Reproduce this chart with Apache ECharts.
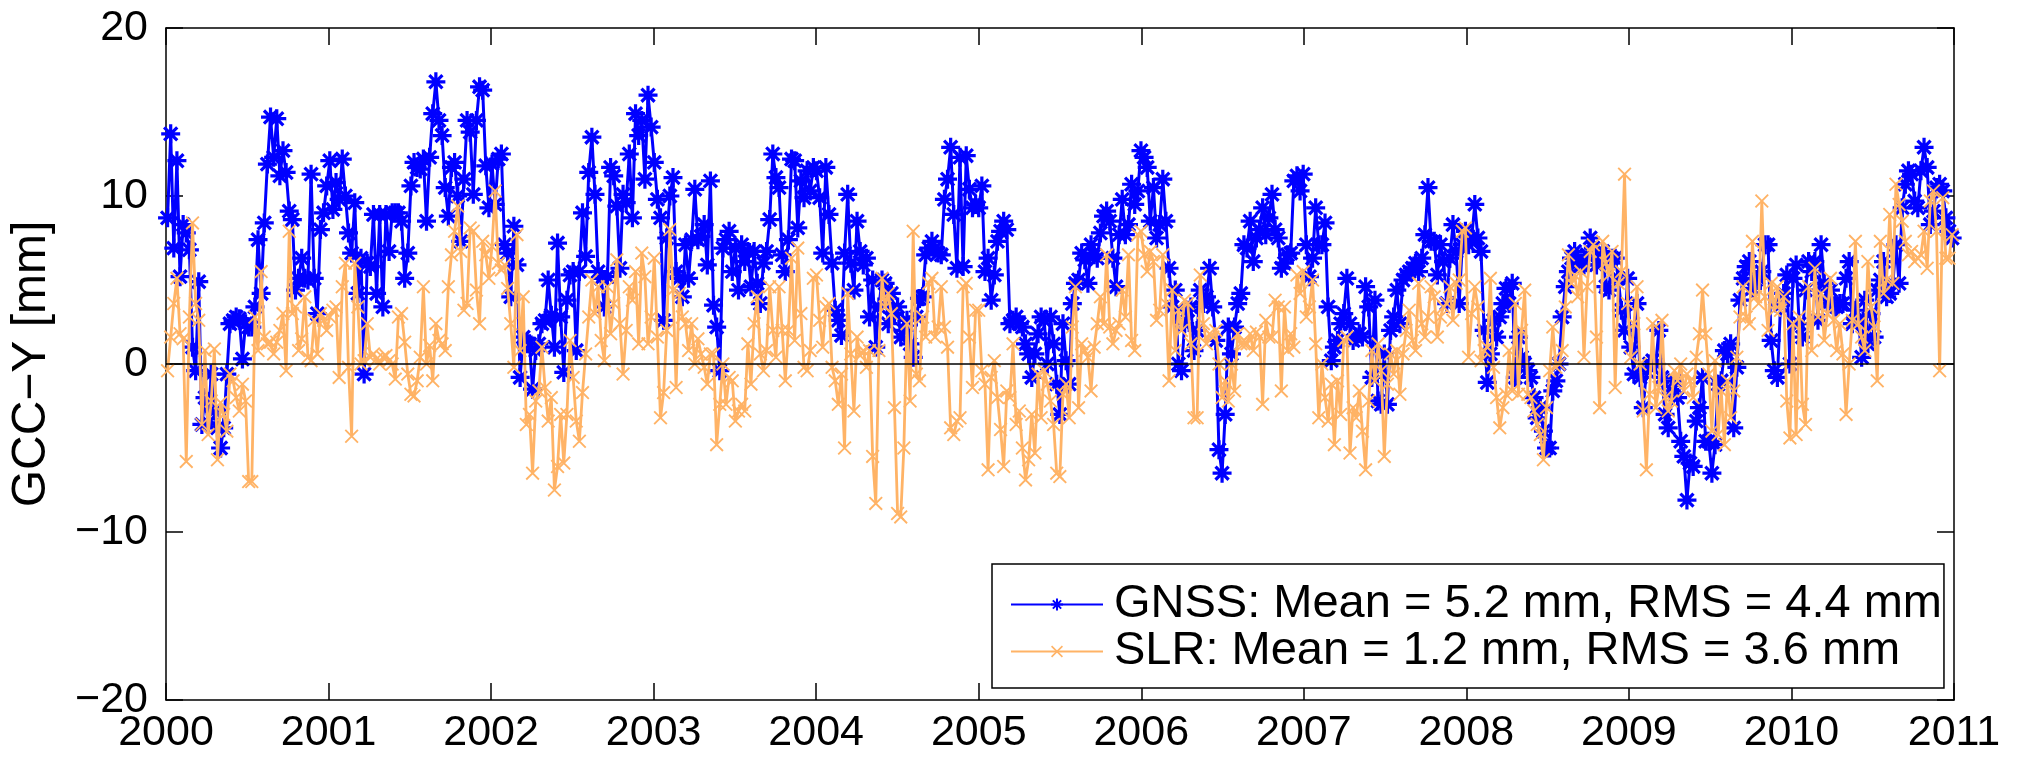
<!DOCTYPE html>
<html>
<head>
<meta charset="utf-8">
<title>GCC-Y: GNSS vs SLR</title>
<script src="https://cdn.jsdelivr.net/npm/echarts@6/dist/echarts.min.js"></script>
<style>
  html, body { margin: 0; padding: 0; background: #fff; }
  #chart { width: 2017px; height: 758px; }
</style>
</head>
<body>
<div id="chart"></div>
<script>
// Weekly geocenter Y-component estimates [mm], 2000.0 - 2011.0
const startYear = 2000;
const samplesPerYear = 52.1;

const xTicks = [2000, 2001, 2002, 2003, 2004, 2005, 2006, 2007, 2008, 2009, 2010, 2011];
const yTicks = [-20, -10, 0, 10, 20];

const seriesNames = [
  'GNSS: Mean = 5.2 mm, RMS = 4.4 mm',
  'SLR: Mean = 1.2 mm, RMS = 3.6 mm'
];

const gnss = [
  // 2000
  8.7, 13.7, 6.9, 12.1, 5.2, 8.3, 7.8, 6.8, 1.0, -0.4, 4.9, -3.6, -2.0, -3.5, -0.6, -2.8, -3.8, -5.0, -3.8, -0.6,
  2.4, 2.6, 2.8, 2.7, 0.3, 2.4, 2.2, 2.2, 3.4, 7.4, 4.2, 8.4, 11.9, 14.7, 12.3, 14.6, 11.2, 12.7, 11.4, 9.1,
  8.6, 4.4, 5.1, 6.3, 5.1, 5.0, 11.3, 5.1, 3.0, 8.0, 9.0, 10.6,
  // 2001
  12.1, 9.2, 10.8, 9.8, 12.2, 10.0, 7.8, 6.6, 9.6, 4.2, 6.3, -0.6, 6.0, 5.8, 8.9, 4.2, 8.9, 3.4, 8.9, 6.7,
  9.0, 9.0, 9.0, 8.5, 5.1, 6.6, 10.6, 12.0, 11.7, 11.6, 12.2, 8.5, 12.3, 14.9, 16.8, 14.5, 13.6, 10.5, 8.8, 11.7,
  12.0, 10.0, 7.3, 11.0, 14.5, 13.8, 10.1, 14.5, 16.5, 16.3, 11.8, 9.3,
  // 2002
  11.9, 9.5, 12.2, 12.5, 7.1, 6.6, 4.0, 8.2, 5.9, -0.8, 1.6, 1.2, 1.2, -1.5, 0.8, 1.2, 2.4, 2.6, 5.0, 2.9,
  1.0, 7.2, 2.8, -0.5, 3.8, 5.3, 5.5, 0.8, 5.5, 9.0, 6.4, 11.4, 13.5, 10.1, 5.5, 5.1, 3.4, 5.2, 11.7, 11.2,
  9.4, 5.7, 10.1, 9.6, 12.5, 8.7, 14.9, 13.6, 14.5, 11.0, 16.0, 14.1,
  // 2003
  12.0, 9.8, 8.7, 2.6, 7.5, 10.0, 11.1, 5.5, 5.1, 4.0, 7.1, 5.1, 7.4, 10.4, 7.4, 7.6, 8.3, 5.9, 10.9, 3.5,
  2.2, -0.4, 6.9, 7.4, 7.9, 5.5, 6.9, 4.4, 7.1, 6.1, 6.7, 4.6, 6.7, 4.8, 3.6, 6.0, 6.7, 8.6, 12.5, 11.1,
  10.5, 6.5, 5.5, 7.4, 12.2, 12.1, 8.1, 10.9, 9.9, 11.5, 10.3, 11.7,
  // 2004
  11.5, 9.9, 6.6, 11.7, 8.9, 6.0, 3.2, 2.6, 1.7, 6.6, 10.1, 6.0, 4.4, 8.5, 6.7, 5.9, 6.3, 2.8, 5.0, 1.0,
  3.4, 5.0, 4.8, 2.4, 4.2, 3.0, 3.4, 1.6, 2.0, 2.6, 1.2, 0.4, 2.8, 3.9, 4.0, 6.5, 6.9, 7.3, 6.9, 6.6,
  6.5, 9.8, 11.0, 12.9, 8.9, 5.7, 12.3, 5.8, 12.4, 10.4, 9.3, 9.5,
  // 2005
  9.3, 10.6, 5.5, 6.3, 3.8, 5.3, 7.3, 7.9, 8.5, 8.0, 2.4, 2.6, 2.8, 2.4, 2.2, 1.2, 0.6, -0.8, 0.6, 1.8,
  2.8, 2.6, 0.0, 2.8, 1.2, -1.2, -3.0, 2.4, 0.2, -1.2, 3.6, 4.8, 5.0, 6.6, 6.2, 4.8, 7.1, 6.5, 6.3, 7.8,
  8.8, 9.1, 8.5, 6.3, 4.6, 7.7, 9.8, 7.7, 8.3, 10.7, 9.5, 10.3,
  // 2006
  12.7, 12.3, 11.7, 8.5, 10.5, 7.5, 8.3, 11.0, 8.5, 5.7, 3.4, 4.4, 0.0, -0.4, 2.4, 3.2, 3.4, 0.8, 2.0, 4.4,
  3.6, 4.0, 5.7, 3.4, 1.4, -5.1, -6.5, -3.0, 2.2, 0.6, 2.2, 3.6, 4.2, 7.1, 6.9, 8.5, 6.1, 7.5, 8.0, 9.3,
  7.7, 8.7, 10.1, 8.0, 7.5, 5.7, 6.0, 6.5, 6.6, 10.9, 11.2, 10.3,
  // 2007
  11.3, 7.1, 5.2, 6.3, 9.3, 7.1, 7.1, 8.4, 3.4, 0.2, 1.0, 1.4, 2.4, 3.0, 5.1, 2.4, 1.4, 1.6, 1.8, 1.6,
  4.6, 3.4, -0.8, 3.8, -2.2, -2.4, 0.6, -2.4, 2.0, 2.8, 4.4, 2.4, 5.0, 5.3, 5.5, 5.7, 6.0, 5.5, 6.3, 7.7,
  10.5, 7.3, 7.3, 5.3, 7.1, 6.1, 3.6, 6.3, 8.3, 6.7, 3.6, 7.1,
  // 2008
  7.9, 7.1, 7.5, 9.5, 7.5, 6.7, 2.0, -1.1, 0.6, 2.6, 1.6, 2.8, 3.6, 4.5, 3.6, 4.8, -0.8, 1.6, 0.4, 0.0,
  -0.4, -0.8, -2.0, -3.2, -2.6, -4.0, -5.0, -5.0, -1.6, -1.0, 0.0, 2.8, 4.6, 5.5, 6.3, 6.7, 6.0, 5.9, 5.9, 6.5,
  7.5, 6.9, 5.9, 6.3, 6.7, 4.6, 4.4, 6.3, 6.3, 5.1, 3.2, 2.0,
  // 2009
  5.1, 1.0, -0.6, 3.6, -0.8, -2.6, -0.4, 0.0, 0.2, 0.0, 2.0, -0.8, -3.0, -3.8, -1.6, -1.0, -2.0, -4.6, -5.5, -8.1,
  -5.9, -6.1, -3.4, -2.6, -0.8, -4.6, -4.6, -6.5, -4.8, -1.2, -1.0, 0.8, 0.6, 1.2, -3.8, -0.2, 3.8, 5.1, 5.8, 6.1,
  4.5, 5.0, 5.1, 5.5, 7.1, 7.1, 1.4, -0.4, -0.8, 3.5, 4.2, 5.3,
  // 2010
  0.0, 5.1, 5.9, 2.4, 1.6, 4.4, 6.1, 5.5, 6.1, 2.6, 7.1, 4.8, 3.6, 4.4, 3.4, 3.4, 3.6, 3.6, 5.1, 6.1,
  2.4, 3.2, 2.6, 0.4, 3.8, 1.2, 3.0, 1.6, 4.4, 5.0, 6.1, 4.0, 4.2, 4.8, 7.1, 4.8, 9.3, 10.7, 11.5, 11.3,
  9.7, 9.3, 11.5, 12.9, 11.7, 8.3, 9.1, 10.5, 10.7, 10.3, 8.7, 7.9, 7.5
];

const slr = [
  // 2000
  -0.4, 1.6, 3.6, 5.1, 1.8, 1.5, -5.8, 2.8, 8.4, 3.6, 2.6, -3.6, 0.8, -4.2, -2.2, 0.9, -5.7, -2.3, -3.0, -4.0,
  -0.6, -1.0, -2.0, -2.8, -1.2, -2.2, -7.0, -7.0, 2.8, 0.8, 5.5, 1.6, 1.2, 1.3, 0.6, 1.3, 2.0, 3.0, -0.4, 7.9,
  3.0, 3.4, 0.8, 1.5, 4.0, 0.4, 0.2, 2.6, 0.6, 3.0, 2.6, 2.0,
  // 2001
  2.8, 3.2, 3.4, -0.8, 4.6, 6.0, -0.2, -4.3, 6.0, 3.4, 0.0, 0.2, 2.4, 0.4, 0.6, 0.3, 0.0, 0.4, 0.5, 0.2,
  0.0, -0.9, 2.8, 3.0, 1.3, -0.6, -1.8, -1.9, -1.0, 0.4, 4.6, 0.0, 1.1, -1.0, 2.4, 1.4, 1.2, 0.8, 4.6, 6.5,
  7.9, 9.4, 6.7, 3.2, 3.6, 8.1, 7.9, 4.4, 2.4, 7.3, 6.5, 5.1,
  // 2002
  7.0, 10.3, 6.0, 5.6, 5.9, 4.5, 2.4, -0.2, 7.7, 0.8, 4.0, -3.6, -3.0, -6.5, -2.2, -1.6, 1.0, -1.4, -3.4, -2.0,
  -7.5, -6.1, -3.0, -5.9, -3.0, 1.4, -0.8, -3.4, -4.6, -1.7, 0.6, 2.8, 5.0, 3.0, 4.6, 1.4, 0.2, 4.6, 1.8, 3.6,
  6.2, 2.4, -0.6, 2.0, 4.6, 3.8, 5.5, 1.2, 6.6, 5.2, 1.2, 2.8,
  // 2003
  6.3, 1.6, -3.2, -1.7, 2.0, 8.0, 4.4, -1.4, 4.2, 2.8, 2.4, 0.8, 2.4, 0.0, 1.5, 0.6, -0.2, -1.2, 0.6, 0.6,
  -4.8, -2.4, 0.0, -2.4, -0.8, -1.0, -3.4, -2.8, -2.4, -2.8, 1.2, -1.2, 2.4, 4.0, 0.6, -0.4, 0.8, 4.6, 2.0, 0.4,
  4.6, 2.0, -1.0, 2.0, 6.3, 1.4, 6.9, 3.0, -0.2, -0.4, 0.8, 5.1,
  // 2004
  5.3, 2.6, 1.0, 3.4, 3.6, -0.2, -1.0, -2.4, -0.6, -5.0, 4.2, 0.6, -2.8, 1.6, 0.5, 0.8, -0.2, 0.8, -5.5, -8.3,
  0.8, 5.1, 3.4, 4.2, 3.0, -2.6, -8.9, -9.1, -5.0, 2.4, -2.2, 7.9, -0.6, -1.0, 2.8, 1.6, 4.8, 5.1, 1.6, 2.2,
  4.6, 2.2, 1.0, -3.8, -4.2, -3.4, -3.2, 4.6, 4.8, 1.6, -1.4, 3.2,
  // 2005
  3.2, -0.4, -1.2, -6.3, -0.8, 0.2, -2.0, -3.9, -6.1, -1.6, -2.0, 1.2, -3.6, -2.8, -5.0, -6.9, -5.7, -3.0, -5.3, -0.6,
  -3.2, -0.4, -1.2, -2.2, -3.6, -6.5, -6.7, -1.8, -1.2, -3.2, 2.2, 4.6, -2.6, 1.2, 0.8, 0.4, -1.6, 1.0, 2.4, 4.0,
  2.4, 6.5, 2.2, 1.2, 2.0, 2.4, 4.4, 2.8, 6.5, 1.4, 0.8, 7.7,
  // 2006
  7.9, 6.5, 5.5, 6.7, 6.1, 2.6, 3.2, 6.5, 3.6, -1.0, 4.4, 0.8, 3.2, 2.0, 3.8, 3.6, 1.2, -3.2, -3.2, 5.3,
  2.4, 1.2, 1.8, 1.6, 2.0, 0.0, -2.0, -1.0, -2.2, 0.0, -1.6, 1.8, 1.2, 1.2, 1.2, 1.8, 0.8, 1.9, 1.6, -2.4,
  2.6, 1.6, 1.6, 3.8, 3.4, -1.6, 3.4, 0.8, 1.8, 1.0, 5.3, 4.2,
  // 2007
  5.5, 2.8, 3.4, 5.0, 1.2, -3.2, 0.0, -2.0, -3.4, -1.2, -4.8, -1.0, -3.0, 1.4, 1.6, -5.3, -2.6, -3.2, -1.6, -4.0,
  -6.3, -2.2, 0.8, -1.0, 1.2, -0.4, -5.5, -1.2, 0.6, -0.6, 0.8, -1.8, 0.6, 2.0, 3.2, 1.4, 0.8, 4.8, 2.4, 1.6,
  2.8, 4.6, 4.0, 1.6, 2.8, 3.4, 3.6, 4.6, 2.6, 4.8, 5.0, 7.9,
  // 2008
  8.1, 0.4, 3.0, 4.6, 3.4, 0.2, 0.8, 1.0, 5.1, -0.2, -2.0, -3.8, -2.6, -1.8, 0.8, -1.6, 3.6, -1.8, 2.0, 4.4,
  -1.8, -2.0, -2.8, -3.6, -4.2, -5.7, -2.6, -0.4, 2.2, -0.2, 0.0, 0.8, 3.4, 6.5, 4.8, 5.3, 4.0, 5.5, 0.4, 4.6,
  6.7, 7.1, 1.6, -2.6, 7.3, 6.0, 5.3, 6.7, -1.4, 4.8, 5.5, 11.3,
  // 2009
  3.6, 0.4, 2.4, 4.6, 0.0, -2.8, -6.3, -1.8, 2.4, -2.6, -1.4, 2.6, -2.0, -2.8, -2.2, -0.4, -1.0, 0.0, -1.6, -0.6,
  -1.0, -2.0, 0.4, 1.8, 4.4, 1.8, -0.6, -4.0, 0.2, -4.2, -1.6, -4.8, -1.0, -3.2, -1.6, 0.4, 2.8, 4.6, 2.8, 2.4,
  7.3, 4.0, 3.6, 9.7, 4.0, 2.0, 4.8, 3.2, 4.6, 3.2, 4.0, -2.2,
  // 2010
  -4.4, 2.4, -4.2, 2.8, -2.4, -3.6, 4.6, 0.8, 5.7, 2.8, 4.2, 1.4, 3.0, 5.1, 2.6, 0.8, 2.4, 0.6, -3.0, 0.0,
  2.6, 7.3, 2.4, 1.6, 0.8, 6.1, 3.4, 2.2, -1.0, 7.3, 4.2, 5.0, 8.9, 4.8, 10.7, 9.5, 8.5, 7.3, 6.5, 6.7,
  6.1, 6.3, 6.5, 7.9, 5.7, 9.7, 10.3, 7.9, -0.4, 9.9, 6.3, 6.3, 7.7
];

// Marker glyphs: an eight-armed asterisk and a diagonal cross
const asteriskPath = 'path://M0 8.3H20V11.7H0Z M8.3 0H11.7V20H8.3Z ' +
  'M1.9 4.3L4.3 1.9L18.1 15.7L15.7 18.1Z M15.7 1.9L18.1 4.3L4.3 18.1L1.9 15.7Z';
const crossPath = 'path://M0 1.9L1.9 0L20 18.1L18.1 20Z M18.1 0L20 1.9L1.9 20L0 18.1Z';

const FONT = '"Liberation Sans", Arial, Helvetica, sans-serif';
const BLUE = '#0000FF';
const ORANGE = '#FFB366';

const toPairs = vals => vals.map((v, i) => [startYear + (i + 0.5) / samplesPerYear, v]);
const minusSign = v => String(v).replace('-', '\u2212');

const xMin = xTicks[0], xMax = xTicks[xTicks.length - 1];
const yMin = yTicks[0], yMax = yTicks[yTicks.length - 1];

const frameLine = { show: true, onZero: false, lineStyle: { color: '#000', width: 1.5 } };
const innerTick = { show: true, inside: true, length: 17, lineStyle: { color: '#000', width: 1.5 } };

const chart = echarts.init(document.getElementById('chart'), null, { renderer: 'canvas' });

chart.setOption({
  animation: false,
  backgroundColor: '#fff',
  grid: { left: 164, right: 63, top: 28, bottom: 58 },
  xAxis: [
    {
      type: 'value', min: xMin, max: xMax, interval: 1, position: 'bottom',
      axisLine: frameLine, axisTick: innerTick, splitLine: { show: false },
      axisLabel: { color: '#000', fontSize: 43, fontFamily: FONT, margin: 12, formatter: v => String(v) }
    },
    {
      type: 'value', min: xMin, max: xMax, interval: 1, position: 'top',
      axisLine: frameLine, axisTick: innerTick, splitLine: { show: false },
      axisLabel: { show: false }
    }
  ],
  yAxis: [
    {
      type: 'value', min: yMin, max: yMax, interval: 10, position: 'left',
      axisLine: frameLine, axisTick: innerTick, splitLine: { show: false },
      axisLabel: { color: '#000', fontSize: 43, fontFamily: FONT, margin: 18, formatter: minusSign },
      name: 'GCC\u2212Y [mm]', nameLocation: 'middle', nameRotate: 90, nameGap: 110,
      nameTextStyle: { color: '#000', fontSize: 48, fontFamily: FONT }
    },
    {
      type: 'value', min: yMin, max: yMax, interval: 10, position: 'right',
      axisLine: frameLine, axisTick: innerTick, splitLine: { show: false },
      axisLabel: { show: false }
    }
  ],
  legend: {
    data: seriesNames,
    orient: 'vertical',
    left: 992, top: 564,
    padding: [17, 2, 13, 18],
    itemGap: 0,
    itemWidth: 92, itemHeight: 15,
    backgroundColor: '#fff',
    borderColor: '#000', borderWidth: 1.5, borderRadius: 0,
    textStyle: { color: '#000', fontSize: 47, fontFamily: FONT, lineHeight: 46, padding: [0, 0, 0, 6] }
  },
  series: [
    {
      name: seriesNames[0], type: 'line', data: toPairs(gnss),
      xAxisIndex: 0, yAxisIndex: 0,
      symbol: asteriskPath, symbolSize: 19, showSymbol: true, showAllSymbol: true,
      lineStyle: { color: BLUE, width: 3 },
      itemStyle: { color: BLUE, borderWidth: 0 },
      emphasis: { disabled: true }, z: 2
    },
    {
      name: seriesNames[1], type: 'line', data: toPairs(slr),
      xAxisIndex: 0, yAxisIndex: 0,
      symbol: crossPath, symbolSize: 14, showSymbol: true, showAllSymbol: true,
      lineStyle: { color: ORANGE, width: 2.8 },
      itemStyle: { color: ORANGE, borderWidth: 0 },
      emphasis: { disabled: true }, z: 3
    },
    {
      // zero reference line
      name: 'zero', type: 'line', data: [[xMin, 0], [xMax, 0]],
      symbol: 'none', silent: true,
      lineStyle: { color: '#000', width: 1.5 },
      z: 4
    }
  ]
});
</script>
</body>
</html>
